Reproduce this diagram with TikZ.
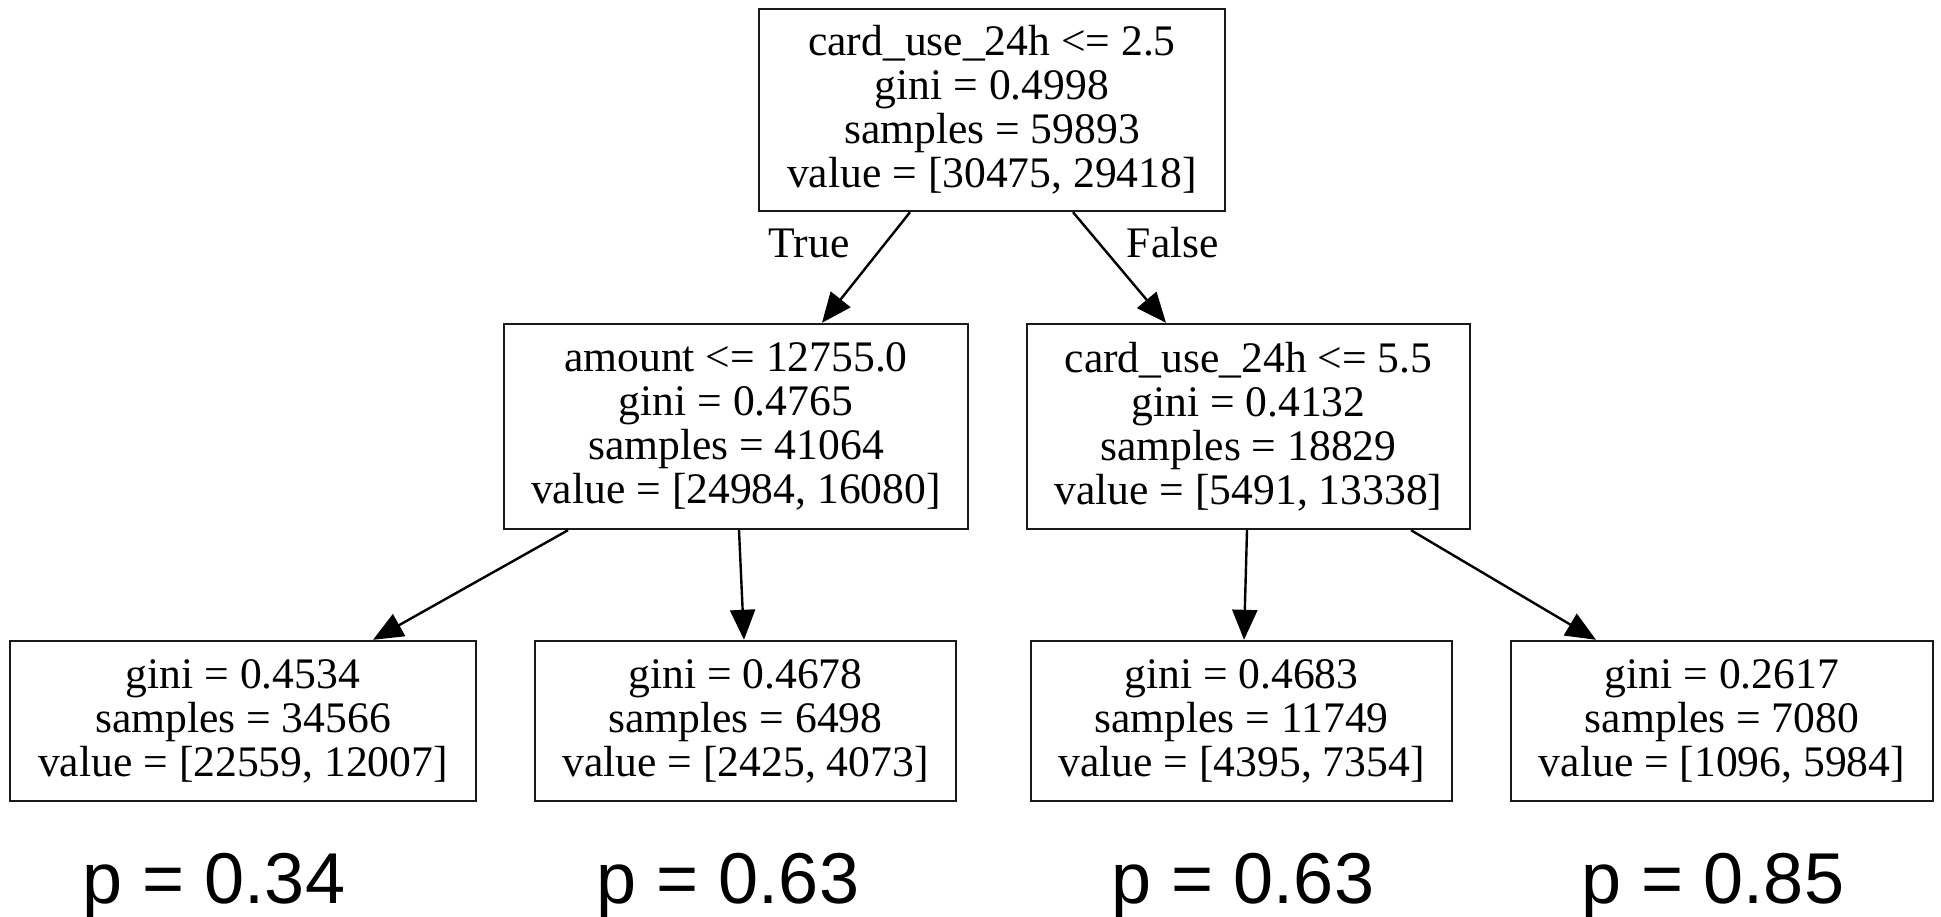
\documentclass[tikz,border=0pt]{standalone}
\usepackage{fontspec}
\setmainfont{Liberation Serif}
\newfontfamily\psans{Liberation Sans}
\usetikzlibrary{arrows.meta,calc}
\begin{document}
\begin{tikzpicture}[x=1pt,y=-1pt,
 box/.style={draw=black!90, line width=2.4pt, align=center, inner sep=0pt, font=\fontsize{43.6}{44}\selectfont},
 edge/.style={line width=2.4pt, -{Triangle[length=30pt,width=25pt]}},
 elabel/.style={font=\fontsize{43.6}{44}\selectfont, anchor=base},
 plabel/.style={font=\psans\fontsize{72}{72}\selectfont, anchor=base}]
\fill[white] (0,0) rectangle (1941,917);
\useasboundingbox (0,0) rectangle (1941,917);

\node[box, minimum width=466pt, minimum height=202pt] (root) at (992,110)
  {card\_use\_24h <= 2.5\\gini = 0.4998\\samples = 59893\\value = [30475, 29418]};
\node[box, minimum width=464pt, minimum height=205pt] (l2a) at (736,426.5)
  {amount <= 12755.0\\gini = 0.4765\\samples = 41064\\value = [24984, 16080]};
\node[box, minimum width=443pt, minimum height=205pt] (l2b) at (1248.5,426.5)
  {card\_use\_24h <= 5.5\\gini = 0.4132\\samples = 18829\\value = [5491, 13338]};
\node[box, minimum width=466pt, minimum height=160pt] (leaf1) at (243,721)
  {gini = 0.4534\\samples = 34566\\value = [22559, 12007]};
\node[box, minimum width=421pt, minimum height=160pt] (leaf2) at (745.5,721)
  {gini = 0.4678\\samples = 6498\\value = [2425, 4073]};
\node[box, minimum width=421pt, minimum height=160pt] (leaf3) at (1241.5,721)
  {gini = 0.4683\\samples = 11749\\value = [4395, 7354]};
\node[box, minimum width=422pt, minimum height=160pt] (leaf4) at (1722,721)
  {gini = 0.2617\\samples = 7080\\value = [1096, 5984]};

\draw[edge] ([xshift=-82pt]root.south) -- ([xshift=86pt]l2a.north);
\draw[edge] ([xshift=81pt]root.south) -- ([xshift=-82.5pt]l2b.north);
\draw[edge] ([xshift=-168pt]l2a.south) -- ([xshift=130pt]leaf1.north);
\draw[edge] ([xshift=3pt]l2a.south) -- ([xshift=-1.5pt]leaf2.north);
\draw[edge] ([xshift=-1.5pt]l2b.south) -- ([xshift=2.5pt]leaf3.north);
\draw[edge] ([xshift=162.5pt]l2b.south) -- ([xshift=-126pt]leaf4.north);

\node[elabel] (tl) at (809,258) {True};
\node[elabel] (fl) at (1173,258) {False};

\node[plabel] (p1) at (214,903) {p = 0.34};
\node[plabel] (p2) at (728,903) {p = 0.63};
\node[plabel] (p3) at (1243,903) {p = 0.63};
\node[plabel] (p4) at (1713,903) {p = 0.85};
\end{tikzpicture}
\end{document}
